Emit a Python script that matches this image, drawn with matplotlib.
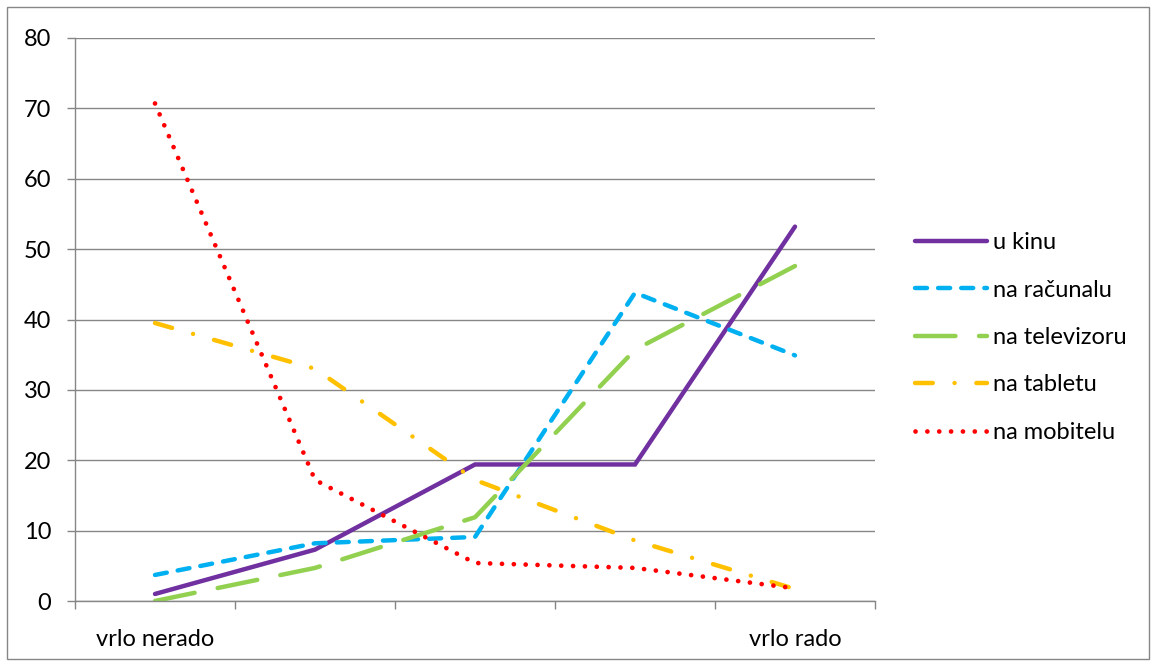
import matplotlib
matplotlib.use('Agg')
import matplotlib.pyplot as plt
from matplotlib.patches import Rectangle
import numpy as np

plt.rcParams['font.family'] = ['Lato', 'DejaVu Sans']

# answers per rating (from "vrlo nerado" to "vrlo rado"), in %
categories = ['vrlo nerado', '', '', '', 'vrlo rado']
u_kinu = [1.0, 7.3, 19.4, 19.4, 53.2]
na_racunalu = [3.7, 8.2, 9.1, 43.8, 34.9]
na_televizoru = [0.0, 4.7, 11.9, 35.7, 47.6]
na_tabletu = [39.5, 33.0, 17.2, 8.6, 1.7]
na_mobitelu = [70.7, 17.2, 5.4, 4.7, 1.8]

series = [
    ('u kinu', u_kinu, '#7030A0', '-'),
    ('na računalu', na_racunalu, '#00B0F0', (0, (2.7, 2.5))),
    ('na televizoru', na_televizoru, '#92D050', (0, (9.1, 5.3))),
    ('na tabletu', na_tabletu, '#FFC000', (0, (4.0, 4.9, 0.01, 4.9))),
    ('na mobitelu', na_mobitelu, '#FF0000', (0, (0.01, 2.5))),
]

grey = '#868686'
fs = 17

fig = plt.figure(figsize=(11.56, 6.66), dpi=100)
ax = fig.add_axes([75 / 1156, 1 - 601 / 666, 800 / 1156, 563 / 666])

x = np.arange(len(categories))
for name, vals, col, ls in series:
    lw = 3.4 if name == 'na mobitelu' else 3.2
    ax.plot(x, vals, color=col, linestyle=ls, linewidth=lw,
            dash_capstyle='round', solid_capstyle='round',
            solid_joinstyle='miter', label=name)

ax.set_xlim(-0.5, len(categories) - 0.5)
ax.set_ylim(0, 80)
ax.set_yticks(np.arange(0, 81, 10))
ax.yaxis.grid(True, color=grey, linewidth=1.0)
ax.set_axisbelow(True)

# labels sit under the categories, tick marks between them
ax.set_xticks(x)
ax.set_xticklabels(categories)
ax.set_xticks(np.arange(-0.5, len(categories)), minor=True)
ax.tick_params(axis='x', which='major', length=0, pad=20, labelsize=fs)
ax.tick_params(axis='x', which='minor', length=6, width=1.0, color=grey,
               direction='out')
ax.tick_params(axis='y', length=6, width=1.0, color=grey, direction='out',
               pad=11, labelsize=fs)

for s in ['top', 'right']:
    ax.spines[s].set_visible(False)
for s in ['left', 'bottom']:
    ax.spines[s].set_color(grey)
    ax.spines[s].set_linewidth(1.0)

leg = ax.legend(loc='center left', bbox_to_anchor=(915 / 1156, 1 - 337.5 / 666),
                bbox_transform=fig.transFigure, frameon=False, fontsize=fs,
                borderpad=0, borderaxespad=0, handlelength=3.05,
                handletextpad=0.25, labelspacing=1.12)

# outer chart border
fig.patches.append(Rectangle((7 / 1156, 7 / 666), 1142 / 1156, 652 / 666,
                             transform=fig.transFigure, fill=False,
                             edgecolor=grey, linewidth=1.0))

fig.savefig('out.png', dpi=100)
